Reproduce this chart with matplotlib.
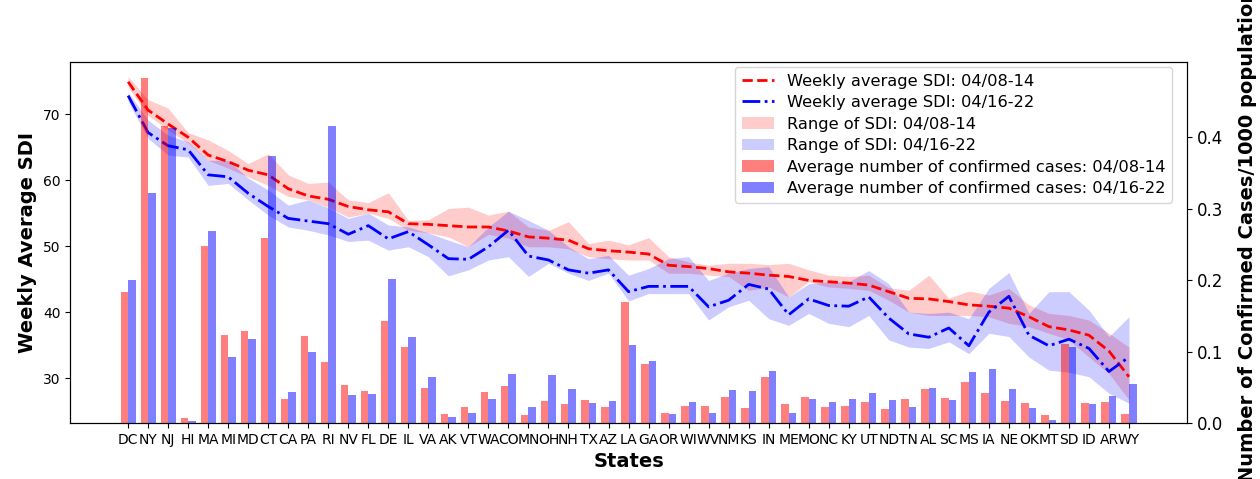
import numpy as np
import matplotlib
matplotlib.use('Agg')
import matplotlib.pyplot as plt

states = ['DC', 'NY', 'NJ', 'HI', 'MA', 'MI', 'MD', 'CT', 'CA', 'PA', 'RI', 'NV', 'FL', 'DE', 'IL',
          'VA', 'AK', 'VT', 'WA', 'CO', 'MN', 'OH', 'NH', 'TX', 'AZ', 'LA', 'GA', 'OR', 'WI', 'WV',
          'NM', 'KS', 'IN', 'ME', 'MO', 'NC', 'KY', 'UT', 'ND', 'TN', 'AL', 'SC', 'MS', 'IA', 'NE',
          'OK', 'MT', 'SD', 'ID', 'AR', 'WY']

# weekly average SDI
sdi_wk1 = [74.9, 70.6, 68.5, 66.5, 63.8, 62.8, 61.5, 60.8, 58.7, 57.6, 57.1, 56.0, 55.5, 55.2, 53.4,
           53.3, 53.1, 52.9, 52.9, 52.3, 51.4, 51.2, 50.9, 49.6, 49.3, 49.1, 48.8, 47.1, 46.9, 46.6,
           46.1, 45.9, 45.6, 45.4, 44.8, 44.6, 44.4, 44.1, 43.1, 42.1, 42.0, 41.6, 41.1, 40.9, 40.6,
           39.3, 37.8, 37.3, 36.5, 34.1, 30.2]
sdi_wk2 = [72.8, 67.2, 65.2, 64.6, 60.8, 60.5, 58.0, 56.0, 54.2, 53.8, 53.4, 51.8, 53.1, 51.1, 52.2,
           50.2, 48.1, 48.0, 49.9, 52.4, 48.5, 47.9, 46.4, 45.9, 46.4, 43.1, 43.9, 43.9, 43.9, 40.8,
           41.8, 44.2, 43.5, 39.6, 42.0, 41.0, 40.9, 42.3, 39.1, 36.7, 36.2, 37.6, 34.9, 40.0, 42.4,
           36.5, 34.9, 35.9, 34.5, 31.0, 33.2]

# range of SDI (min / max)
wk1_lo = [74.1, 69.8, 67.6, 65.6, 63.0, 61.8, 60.5, 59.2, 57.5, 57.0, 55.9, 54.4, 55.0, 54.2, 52.4,
          52.0, 51.4, 49.9, 51.8, 51.2, 49.9, 49.9, 49.6, 48.4, 48.1, 47.9, 47.9, 45.9, 45.9, 45.6,
          45.4, 43.3, 43.8, 42.3, 44.6, 43.8, 43.6, 43.3, 41.8, 40.0, 39.5, 39.5, 39.5, 39.3, 38.3,
          37.8, 36.8, 35.8, 33.2, 30.7, 26.7]
wk1_hi = [75.7, 72.2, 70.9, 67.2, 66.1, 64.5, 62.5, 64.0, 60.8, 59.5, 59.7, 57.0, 56.6, 58.1, 53.9,
          54.0, 55.7, 55.9, 54.7, 55.3, 52.9, 52.4, 53.7, 50.4, 50.9, 50.2, 51.3, 48.4, 47.6, 47.1,
          47.4, 47.4, 47.2, 47.4, 46.4, 45.6, 45.4, 45.6, 43.7, 43.3, 45.6, 42.1, 43.2, 42.6, 43.6,
          41.1, 39.8, 39.5, 38.8, 36.8, 34.7]
wk2_lo = [71.9, 66.3, 63.8, 63.5, 59.2, 59.5, 57.0, 54.7, 52.9, 52.4, 51.7, 50.7, 50.9, 49.4, 49.9,
          48.4, 45.5, 46.4, 47.9, 48.4, 45.4, 47.4, 45.9, 44.8, 45.9, 41.7, 42.8, 42.8, 42.8, 38.8,
          40.8, 41.8, 39.0, 38.0, 39.8, 38.3, 37.8, 39.5, 35.8, 34.7, 34.5, 35.5, 33.7, 36.8, 36.3,
          33.2, 31.2, 30.9, 30.2, 27.7, 26.2]
wk2_hi = [73.3, 69.1, 66.8, 65.8, 63.0, 63.0, 60.3, 58.5, 56.2, 57.0, 55.8, 54.2, 55.0, 53.2, 52.9,
          52.0, 50.9, 49.9, 52.9, 55.3, 53.9, 52.4, 49.9, 48.1, 48.6, 45.6, 46.6, 48.1, 48.4, 44.8,
          45.9, 46.6, 46.9, 42.3, 44.3, 44.6, 44.6, 46.3, 44.3, 40.0, 39.8, 40.0, 39.0, 43.6, 46.0,
          39.8, 43.1, 43.1, 40.3, 36.3, 39.3]

# average confirmed cases per 1000 population
cases_wk1 = [0.183, 0.483, 0.416, 0.0065, 0.247, 0.123, 0.129, 0.259, 0.033, 0.122, 0.085, 0.053,
             0.045, 0.142, 0.107, 0.049, 0.012, 0.023, 0.044, 0.052, 0.011, 0.031, 0.026, 0.032,
             0.022, 0.169, 0.083, 0.014, 0.024, 0.024, 0.037, 0.021, 0.064, 0.026, 0.037, 0.023,
             0.024, 0.030, 0.019, 0.034, 0.048, 0.035, 0.058, 0.042, 0.031, 0.028, 0.011, 0.110,
             0.028, 0.029, 0.012]
cases_wk2 = [0.200, 0.322, 0.412, 0.003, 0.268, 0.092, 0.117, 0.374, 0.043, 0.100, 0.415, 0.039,
             0.040, 0.201, 0.121, 0.064, 0.008, 0.014, 0.034, 0.069, 0.022, 0.067, 0.048, 0.028,
             0.031, 0.109, 0.087, 0.013, 0.029, 0.014, 0.046, 0.045, 0.073, 0.014, 0.034, 0.030,
             0.033, 0.042, 0.032, 0.023, 0.049, 0.032, 0.071, 0.076, 0.048, 0.021, 0.004, 0.107,
             0.027, 0.038, 0.054]

x = np.arange(len(states))
w = 0.375

fig = plt.figure(figsize=(12.6, 4.79), dpi=100)
ax = fig.add_axes([0.0556, 0.1169, 0.8865, 0.7537])

l1, = ax.plot(x, sdi_wk1, 'r--', lw=2, label='Weekly average SDI: 04/08-14')
l2, = ax.plot(x, sdi_wk2, 'b-.', lw=2, label='Weekly average SDI: 04/16-22')
f1 = ax.fill_between(x, wk1_lo, wk1_hi, color='red', alpha=0.2, lw=0, label='Range of SDI: 04/08-14')
f2 = ax.fill_between(x, wk2_lo, wk2_hi, color='blue', alpha=0.2, lw=0, label='Range of SDI: 04/16-22')
ax.set_ylim(23.2, 77.9)
ax.set_xlim(-2.9, 52.9)
ax.set_yticks([30, 40, 50, 60, 70])
ax.tick_params(axis='y', labelsize=10)
ax.set_xticks(x)
ax.set_xticklabels(states, fontsize=10)
ax.set_xlabel('States', fontsize=14, fontweight='bold', labelpad=4)
ax.set_ylabel('Weekly Average SDI', fontsize=14, fontweight='bold')

ax2 = ax.twinx()
b1 = ax2.bar(x - w / 2, cases_wk1, w, color='red', alpha=0.5,
             label='Average number of confirmed cases: 04/08-14')
b2 = ax2.bar(x + w / 2, cases_wk2, w, color='blue', alpha=0.5,
             label='Average number of confirmed cases: 04/16-22')
ax2.set_ylim(0, 0.505)
ax2.set_yticks([0.0, 0.1, 0.2, 0.3, 0.4])
ax2.tick_params(axis='y', labelsize=12)
ax2.set_ylabel('Number of Confirmed Cases/1000 population', fontsize=14, fontweight='bold')
ax2.yaxis.set_label_coords(1.046, 0.52)

handles = [l1, l2, f1, f2, b1, b2]
ax2.legend(handles, [h.get_label() for h in handles],
           loc='upper right', bbox_to_anchor=(0.9866, 0.986), borderaxespad=0,
           fontsize=11.7, labelspacing=0.4)

fig.savefig('out.png', dpi=100)
